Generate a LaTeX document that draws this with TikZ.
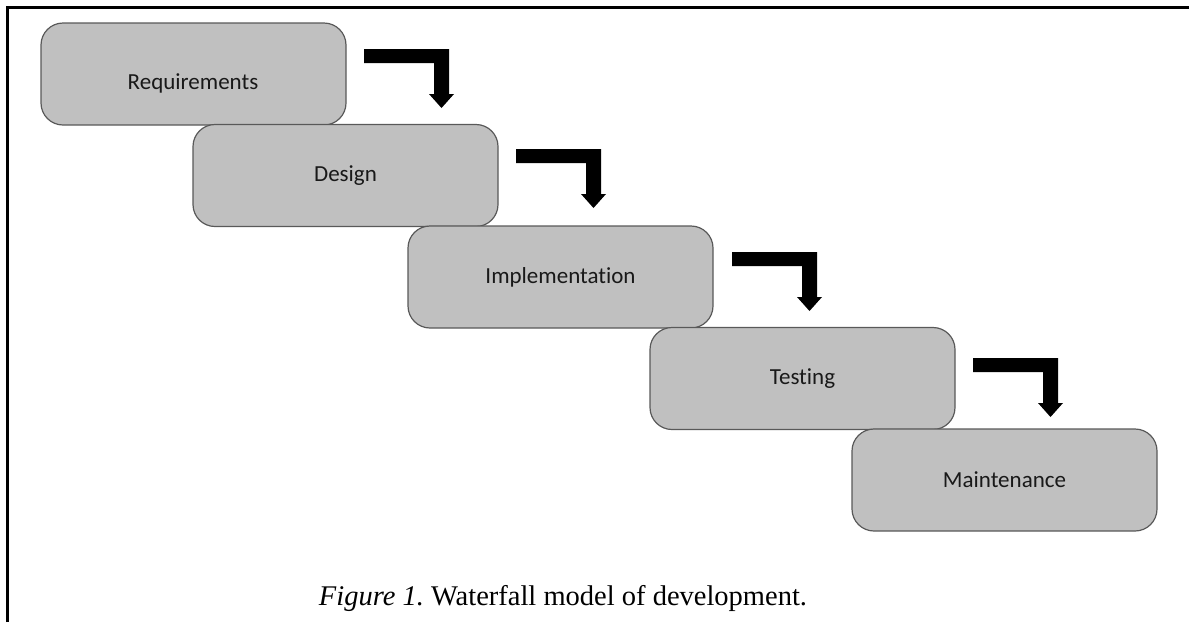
\documentclass[tikz,border=0pt]{standalone}
\usepackage{fontspec}
\setmainfont{Liberation Serif}
\newfontfamily\boxfont[Ligatures=NoCommon]{Carlito}
\begin{document}
\begin{tikzpicture}[x=1pt,y=-1pt,
  labelfont/.style={font=\boxfont\fontsize{23}{27}\selectfont, text=black!90},
  stage/.style={draw=black!65, line width=1.2pt, fill=boxgray, rounded corners=22pt,
     minimum width=305pt, minimum height=102pt, inner sep=0pt, labelfont},
  elbow/.pic={\fill[black] (0,0) -- (85,0) -- (85,45) -- (90,45) -- (77.5,59) -- (65,45)
      -- (70,45) -- (70,14) -- (0,14) -- cycle;}]
\definecolor{boxgray}{HTML}{C0C0C0}
\useasboundingbox (0,0) rectangle (1189,622);
% frame (top and left edges)
\draw[line width=3pt] (7,622) -- (7,7) -- (1189,7);
% stages
\node[stage] (req) at (193.5,74) {};
\node[labelfont] (reqt) at (193,83) {Requirements};
\node[stage] (des) at (345.5,175.5) {Design};
\node[stage] (imp) at (560.5,277) {Implementation};
\node[stage] (tes) at (802.5,378.5) {Testing};
\node[stage] (mai) at (1004.5,480) {Maintenance};
% elbow arrows
\pic at (364,49) {elbow};
\pic at (516,149) {elbow};
\pic at (732,252) {elbow};
\pic at (973,358) {elbow};
% caption
\node[font=\fontsize{28.5}{32}\selectfont, anchor=base] (cap) at (563,605)
  {\textit{Figure 1.}\ Waterfall model of development.};
\end{tikzpicture}
\end{document}
